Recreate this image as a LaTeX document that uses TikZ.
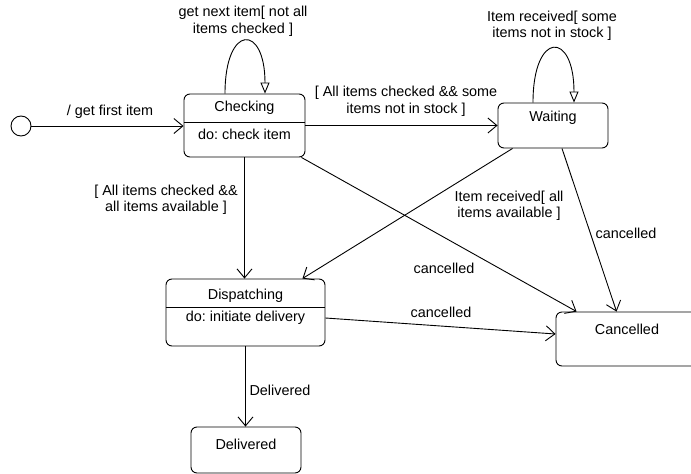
\documentclass[tikz,border=0pt]{standalone}
\usepackage{fontspec}
\setmainfont{Liberation Sans}
\usetikzlibrary{arrows.meta,calc}
\frenchspacing
\begin{document}
\begin{tikzpicture}[x=1pt,y=-1pt,
  every node/.style={font=\fontsize{14.4}{16.5}\selectfont},
  statebox/.style={draw, rounded corners=6pt, line width=0.9pt, inner sep=0pt},
  txt/.style={inner sep=0pt, align=center},
  trans/.style={draw, line width=0.9pt, -{Straight Barb[length=9pt,width=15pt,line width=0.9pt]}},
  selfloop/.style={draw, line width=0.9pt, -{Triangle[open,length=11pt,width=9pt,line width=0.9pt]}},
]
\useasboundingbox (0,0) rectangle (691,474);
\clip (0,0) rectangle (691,474);

% initial pseudo-state
\node[draw, circle, line width=0.9pt, minimum size=20pt, inner sep=0pt] (init) at (21,126) {};

% states
\node[statebox, minimum width=121pt, minimum height=63pt] (checking) at (244.5,125.5) {};
\node[txt] (checkingname) at (244.5,108) {Checking};
\node[txt] (checkingdo) at (244.5,134) {do: check item};
\draw[line width=0.9pt] ([yshift=3.5pt]checking.west) -- ([yshift=3.5pt]checking.east);

\node[statebox, minimum width=110pt, minimum height=45pt] (waiting) at (553,125.5) {};
\node[txt] (waitingname) at (553,118) {Waiting};

\node[statebox, minimum width=159pt, minimum height=67pt] (dispatching) at (245.5,312.5) {};
\node[txt] (dispatchingname) at (245.5,295.5) {Dispatching};
\node[txt] (dispatchingdo) at (245.5,318) {do: initiate delivery};
\draw[line width=0.9pt] ([yshift=5.5pt]dispatching.west) -- ([yshift=5.5pt]dispatching.east);

% this state runs past the right edge of the sheet
\node[statebox, minimum width=164pt, minimum height=54pt] (cancelled) at (638,339) {};
\node[txt] (cancelledname) at (627,329) {Cancelled};

\node[statebox, minimum width=110pt, minimum height=46pt] (delivered) at (246,450) {};
\node[txt] (deliveredname) at (246,444) {Delivered};

% transitions
\draw[trans] (init.east) -- (init.east -| checking.west);
\draw[trans] (checking.east) -- (waiting.west);
\draw[trans] (checking.south) -- (checking.south |- dispatching.north);
\draw[trans] ([xshift=-4pt]checking.south east) -- ([xshift=21pt]cancelled.north west);
\draw[trans] ([xshift=15pt]waiting.south west) -- ([xshift=-23pt]dispatching.north east);
\draw[trans] ([xshift=9pt]waiting.south) -- ([xshift=61pt]cancelled.north west);
\draw[trans] ([yshift=-5.5pt]dispatching.east) -- ([yshift=5pt]cancelled.west);
\draw[trans] (dispatching.south) -- (dispatching.south |- delivered.north);

% self transitions
\draw[selfloop] ([xshift=-19.5pt]checking.north) .. controls +(0,-70) and +(0,-70) .. ([xshift=20.5pt]checking.north);
\draw[selfloop] ([xshift=-20pt]waiting.north) .. controls +(0,-72) and +(0,-72) .. ([xshift=21pt]waiting.north);

% transition labels
\node[txt] (lblfirst) at (110,112) {/ get first item};
\node[txt] (lblnext) at (243,21.5) {get next item[ not all\\ items checked ]};
\node[txt] (lblstock) at (406,101.5) {[ All items checked \&\& some\\ items not in stock ]};
\node[txt] (lblwaitloop) at (552,26) {Item received[ some\\ items not in stock ]};
\node[txt] (lblavail) at (166,200) {[ All items checked \&\&\\ all items available ]};
\node[txt] (lblreceived) at (509,206) {Item received[ all\\ items available ]};
\node[txt] (lblcancel1) at (444,268) {cancelled};
\node[txt] (lblcancel2) at (626,233) {cancelled};
\node[txt] (lblcancel3) at (441,312) {cancelled};
\node[txt] (lbldelivered) at (280,390) {Delivered};
\end{tikzpicture}
\end{document}
